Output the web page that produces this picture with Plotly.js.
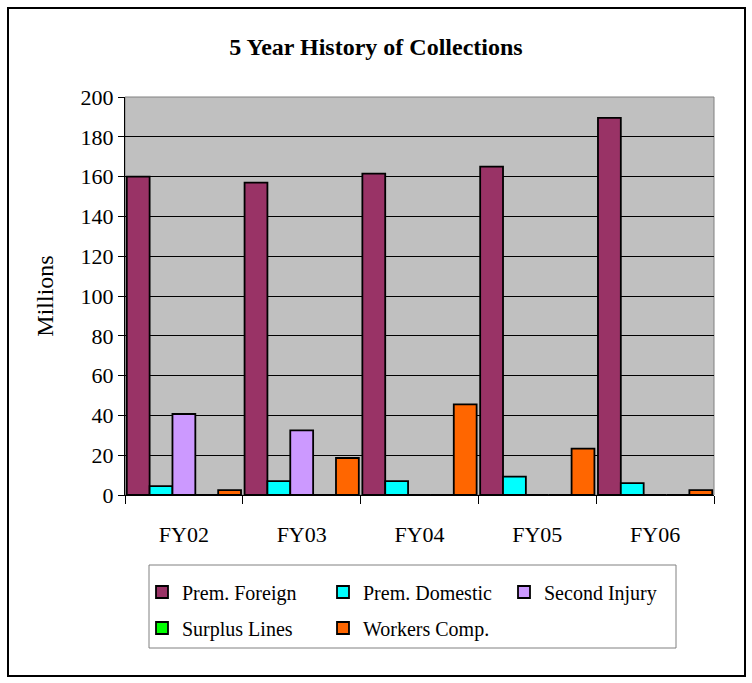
<!DOCTYPE html>
<html>
<head>
<meta charset="utf-8">
<script src="https://cdn.plot.ly/plotly-3.0.1.min.js"></script>
<style>html,body{margin:0;padding:0;background:#fff;}#chart{width:752px;height:683px;}</style>
</head>
<body>
<div id="chart"></div>
<script>
const categories = ["FY02", "FY03", "FY04", "FY05", "FY06"];
const premForeign = [160, 157, 161.5, 165, 189.5];
const premDomestic = [4.5, 7, 7, 9.2, 6];
const secondInjury = [40.7, 32.5, 0, 0, 0];
const surplusLines = [0, 0, 0, 0, 0];
const workersComp = [2.5, 18.6, 45.5, 23.3, 2.5];
const yTicks = [0, 20, 40, 60, 80, 100, 120, 140, 160, 180, 200];

const FONT = "'Liberation Serif', 'Times New Roman', serif";
const W = 752, H = 683;
const L = 125, R = 38, T = 97, B = 188;
const pw = W - L - R, ph = H - T - B;
const px = x => (x - L) / pw;
const py = y => (H - B - y) / ph;

function bar(name, y, color, legend) {
  return {
    type: 'bar', name: name, x: categories, y: y,
    marker: {color: color, line: {color: '#000', width: 1.8}},
    legend: legend, hoverinfo: 'skip'
  };
}

const data = [
  bar('Prem. Foreign', premForeign, '#993366', 'legend'),
  bar('Prem. Domestic', premDomestic, '#00FFFF', 'legend'),
  bar('Second Injury', secondInjury, '#CC99FF', 'legend'),
  bar('Surplus Lines', surplusLines, '#00FF00', 'legend2'),
  bar('Workers Comp.', workersComp, '#FF6600', 'legend2')
];

const legendCommon = {
  orientation: 'h', xanchor: 'left', yanchor: 'middle',
  font: {family: FONT, size: 20, color: '#000'},
  bgcolor: 'rgba(0,0,0,0)', borderwidth: 0,
  entrywidth: 136, entrywidthmode: 'pixels',
  traceorder: 'normal'
};

const layout = {
  width: W, height: H,
  margin: {l: L, r: R, t: T, b: B, pad: 0},
  paper_bgcolor: '#fff', plot_bgcolor: '#C0C0C0',
  font: {family: FONT, color: '#000'},
  showlegend: true,
  barmode: 'group', bargap: 0.03, bargroupgap: 0,
  title: {
    text: '<b>5 Year History of Collections</b>',
    font: {family: FONT, size: 24, color: '#000'},
    x: 0.5, xref: 'container', xanchor: 'center', y: 1 - 47 / H, yanchor: 'middle'
  },
  xaxis: {
    type: 'category', tickson: 'boundaries', ticks: 'outside', ticklen: 8, tickcolor: '#000', tickwidth: 1,
    showline: true, linecolor: '#000', linewidth: 1, showgrid: false, zeroline: false,
    tickfont: {family: FONT, size: 22, color: '#000'}, ticklabelstandoff: 20
  },
  yaxis: {
    range: [0, 200], tickvals: yTicks, ticktext: yTicks.map(String),
    ticks: 'outside', ticklen: 6, tickcolor: '#000', tickwidth: 1,
    showline: true, linecolor: '#000', linewidth: 1,
    showgrid: true, gridcolor: '#000', gridwidth: 1, zeroline: false,
    tickfont: {family: FONT, size: 22, color: '#000'},
    title: {text: 'Millions', font: {family: FONT, size: 24, color: '#000'}, standoff: 20}
  },
  legend: Object.assign({}, legendCommon, {x: px(142), y: py(592)}),
  legend2: Object.assign({}, legendCommon, {x: px(142), y: py(628)}),
  shapes: [
    {type: 'rect', xref: 'paper', yref: 'paper', x0: 0, x1: 1, y0: 0, y1: 1,
     line: {color: '#808080', width: 1}, layer: 'below'},
    {type: 'rect', xref: 'paper', yref: 'paper', x0: px(149), x1: px(676), y0: py(565), y1: py(648),
     line: {color: '#808080', width: 1}, fillcolor: '#fff', layer: 'below'},
    {type: 'rect', xref: 'paper', yref: 'paper', x0: px(8), x1: px(745), y0: py(8), y1: py(676),
     line: {color: '#000', width: 2}, layer: 'above'}
  ]
};

Plotly.newPlot('chart', data, layout, {displayModeBar: false, staticPlot: true});
</script>
</body>
</html>
